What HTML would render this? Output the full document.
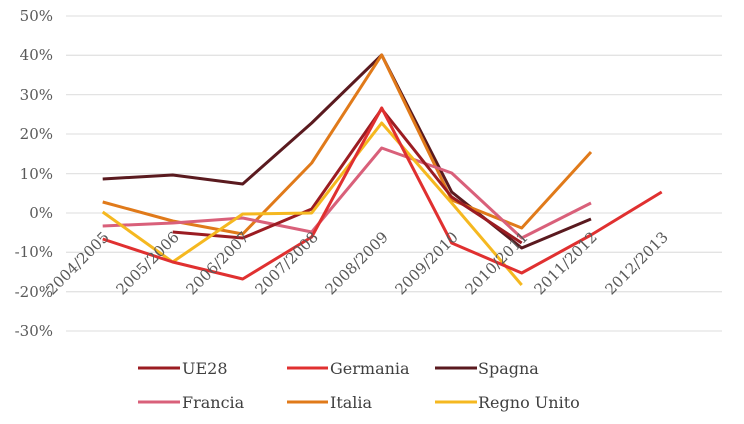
<!DOCTYPE html>
<html><head><style>body{margin:0;background:#fff}</style></head><body>
<svg width="744" height="419" xmlns="http://www.w3.org/2000/svg" font-family="DejaVu Serif, serif" fill="#595959">
<g stroke="#e3e3e3" stroke-width="1.3">
<line x1="66" x2="722" y1="16" y2="16"/><line x1="66" x2="722" y1="55.3" y2="55.3"/><line x1="66" x2="722" y1="94.6" y2="94.6"/><line x1="66" x2="722" y1="134" y2="134"/><line x1="66" x2="722" y1="173.6" y2="173.6"/><line x1="66" x2="722" y1="213" y2="213"/><line x1="66" x2="722" y1="252.3" y2="252.3"/><line x1="66" x2="722" y1="291.7" y2="291.7"/><line x1="66" x2="722" y1="331" y2="331"/>
</g>
<g font-size="15" text-anchor="end">
<text x="53" y="21">50%</text><text x="53" y="60">40%</text><text x="53" y="100">30%</text><text x="53" y="139">20%</text><text x="53" y="179">10%</text><text x="53" y="218">0%</text><text x="53" y="257">-10%</text><text x="53" y="297">-20%</text><text x="53" y="336">-30%</text>
</g>
<g fill="none" stroke-width="3" stroke-linejoin="round">
<polyline stroke="#5a1a1f" points="102.7,179 172.7,175 242.7,184 311.7,123 381.7,55 451.7,192 521.7,248 591,219"/>
<polyline stroke="#e07a1a" points="102.7,202 172.7,221 242.7,234 311.7,163 381.7,55 451.7,200 521.7,228 591,152"/>
<polyline stroke="#d9607a" points="102.7,226 172.7,223 242.7,218 311.7,232 381.7,148 451.7,173 521.7,238 591,203"/>
<polyline stroke="#9b1c22" points="172.7,232 242.7,238 311.7,209 381.7,109 451.7,197 521.7,243"/>
<polyline stroke="#f5b820" points="102.7,212 172.7,262 242.7,214 311.7,213 381.7,123 451.7,203 521.7,285"/>
<polyline stroke="#e03030" points="102.7,239 172.7,262 242.7,279 311.7,237 381.7,108 451.7,243 521.7,273 591,235 661.7,192"/>
</g>
<g font-size="15">
<text transform="translate(110,238) rotate(-45)" text-anchor="end">2004/2005</text>
<text transform="translate(180,238) rotate(-45)" text-anchor="end">2005/2006</text>
<text transform="translate(250,238) rotate(-45)" text-anchor="end">2006/2007</text>
<text transform="translate(319,238) rotate(-45)" text-anchor="end">2007/2008</text>
<text transform="translate(389,238) rotate(-45)" text-anchor="end">2008/2009</text>
<text transform="translate(459,238) rotate(-45)" text-anchor="end">2009/2010</text>
<text transform="translate(529,238) rotate(-45)" text-anchor="end">2010/2011</text>
<text transform="translate(598,238) rotate(-45)" text-anchor="end">2011/2012</text>
<text transform="translate(669,238) rotate(-45)" text-anchor="end">2012/2013</text>
</g>
<g stroke-width="3">
<line x1="138" x2="180" y1="368" y2="368" stroke="#9b1c22"/>
<line x1="287" x2="328" y1="368" y2="368" stroke="#e03030"/>
<line x1="435" x2="477" y1="368" y2="368" stroke="#5a1a1f"/>
<line x1="138" x2="180" y1="402" y2="402" stroke="#d9607a"/>
<line x1="287" x2="328" y1="402" y2="402" stroke="#e07a1a"/>
<line x1="435" x2="477" y1="402" y2="402" stroke="#f5b820"/>
</g>
<g font-size="16" fill="#404040">
<text x="182" y="374">UE28</text><text x="330" y="374">Germania</text><text x="478" y="374">Spagna</text>
<text x="182" y="408">Francia</text><text x="330" y="408">Italia</text><text x="478" y="408">Regno Unito</text>
</g>
</svg>
</body></html>
